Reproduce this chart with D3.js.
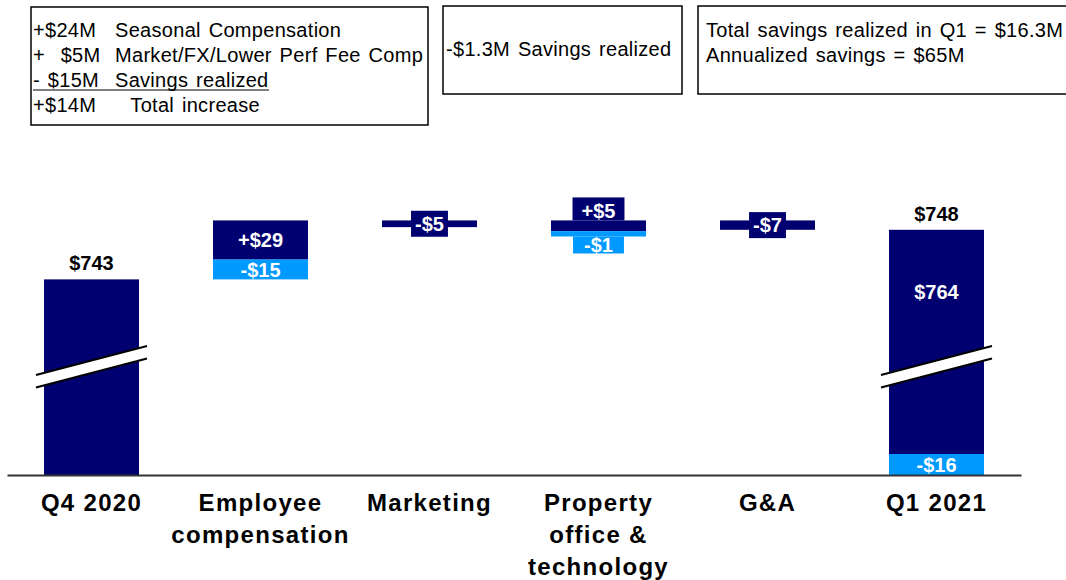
<!DOCTYPE html>
<html>
<head>
<meta charset="utf-8">
<script src="https://d3js.org/d3.v7.min.js"></script>
<style>
  body { margin: 0; background: white; }
  svg text { font-family: 'Liberation Sans', Arial, sans-serif; }
  .note { font-size: 20px; fill: #000; white-space: pre; letter-spacing: 0.3px; word-spacing: 2px; }
  .cat { font-size: 24px; font-weight: bold; letter-spacing: 1.3px; }
  .val { font-size: 20px; font-weight: bold; }
</style>
</head>
<body>
<svg id="chart" width="1066" height="580"></svg>
<script>
// categories on the x axis
const categories = ["Q4 2020", "Employee compensation", "Marketing", "Property office & technology", "G&A", "Q1 2021"];
const categoryLines = [["Q4 2020"], ["Employee", "compensation"], ["Marketing"], ["Property", "office &", "technology"], ["G&A"], ["Q1 2021"]];

// floating segments, $M as drawn on the (broken) axis
const segCategory = ["Q4 2020", "Employee compensation", "Employee compensation", "Marketing",
  "Property office & technology", "Property office & technology", "G&A", "Q1 2021", "Q1 2021"];
const segFrom  = [0,   743, 758, 787, 779, 775, 787, 16,  0];
const segTo    = [743, 758, 787, 782, 787, 779, 780, 780, 16];
const segLabel = ["", "-$15", "+$29", "-$5", "+$5", "-$1", "-$7", "$764", "-$16"];
const segType  = ["total", "saving", "increase", "increase", "increase", "saving", "increase", "total", "saving"];
const segLabelPos = ["none", "inside", "inside", "box", "above", "below", "box", "upper", "inside"];

// totals written above the end bars
const totalCategory = ["Q4 2020", "Q1 2021"];
const totalLabel = ["$743", "$748"];

// commentary boxes
const note1Amounts = ["+$24M", "+  $5M", "- $15M", "+$14M"];
const note1Items = ["Seasonal Compensation", "Market/FX/Lower Perf Fee Comp", "Savings realized", "  Total increase"];
const note2 = ["-$1.3M Savings realized"];
const note3 = ["Total savings realized in Q1 = $16.3M", "Annualized savings = $65M"];

const DARK = "#000070", LIGHT = "#0099ff";
const breakValue = 525;

const svg = d3.select("#chart");

const x = d3.scaleBand().domain(categories).range([7, 1021]).paddingInner(0.438).paddingOuter(0.219);
// broken axis: small bottom piece on the same scale as the top, middle squeezed
const y = d3.scaleLinear().domain([0, 16, 700, 800]).range([475, 454, 337, 203]);

const color = t => t == "saving" ? LIGHT : DARK;

// bars
svg.append("g").selectAll("rect")
  .data(segFrom.map((f, i) => ({cat: segCategory[i], lo: Math.min(f, segTo[i]), hi: Math.max(f, segTo[i]), type: segType[i]})))
  .join("rect")
  .attr("x", d => x(d.cat))
  .attr("width", x.bandwidth())
  .attr("y", d => y(d.hi))
  .attr("height", d => y(d.lo) - y(d.hi))
  .attr("fill", d => color(d.type));

// axis break marks on the total bars
const yb = y(breakValue);
totalCategory.forEach(c => {
  const x0 = x(c) - 8, x1 = x(c) + x.bandwidth() + 8;
  const rise = 14.5, top = yb - 6.5, bot = yb + 6;
  svg.append("polygon")
    .attr("points", [[x0, top + rise], [x1, top - rise], [x1, bot - rise], [x0, bot + rise]].join(" "))
    .attr("fill", "white");
  [top, bot].forEach(yy => {
    svg.append("line")
      .attr("x1", x0).attr("y1", yy + rise)
      .attr("x2", x1).attr("y2", yy - rise)
      .attr("stroke", "black").attr("stroke-width", 2);
  });
});

// labels on the bars
segLabel.forEach((lab, i) => {
  if (segLabelPos[i] == "none") return;
  const cx = x(segCategory[i]) + x.bandwidth() / 2;
  const hi = y(Math.max(segFrom[i], segTo[i])), lo = y(Math.min(segFrom[i], segTo[i]));
  const pos = segLabelPos[i];
  const g = svg.append("g");
  const t = g.append("text").attr("class", "val").attr("fill", "white")
    .attr("text-anchor", "middle").attr("x", cx).text(lab);
  const w = t.node().getComputedTextLength();
  if (pos == "inside") {
    t.attr("y", (hi + lo) / 2).attr("dy", "0.36em");
  } else if (pos == "upper") {
    t.attr("y", (hi + yb - 14) / 2).attr("dy", "0.36em");
  } else if (pos == "box") {
    g.insert("rect", "text").attr("x", cx - w / 2 - 4).attr("width", w + 8)
      .attr("y", (hi + lo) / 2 - 13).attr("height", 26).attr("fill", color(segType[i]));
    t.attr("y", (hi + lo) / 2).attr("dy", "0.36em");
  } else if (pos == "above") {
    g.insert("rect", "text").attr("x", cx - w / 2 - 9).attr("width", w + 18)
      .attr("y", hi - 23).attr("height", 23).attr("fill", color(segType[i]));
    t.attr("y", hi - 10).attr("dy", "0.36em");
  } else if (pos == "below") {
    g.insert("rect", "text").attr("x", cx - w / 2 - 11).attr("width", w + 22)
      .attr("y", lo).attr("height", 17).attr("fill", color(segType[i]));
    t.attr("y", lo + 8).attr("dy", "0.36em");
  }
});

// totals above end bars
totalCategory.forEach((c, i) => {
  const top = d3.max(segTo.filter((v, j) => segCategory[j] == c));
  svg.append("text").attr("class", "val").attr("text-anchor", "middle")
    .attr("x", x(c) + x.bandwidth() / 2).attr("y", y(top) - 9).text(totalLabel[i]);
});

// x axis
const axis = svg.append("g").attr("transform", "translate(0,475)")
  .call(d3.axisBottom(x).tickSize(0).tickSizeOuter(0));
axis.select(".domain").attr("stroke", "#333").attr("stroke-width", 2);
axis.selectAll(".tick text").remove();
axis.selectAll(".tick").append("text")
  .attr("class", "cat").attr("fill", "black").attr("text-anchor", "middle")
  .attr("y", 36)
  .selectAll("tspan")
  .data(d => categoryLines[categories.indexOf(d)])
  .join("tspan")
  .attr("x", 0).attr("dy", (d, i) => i ? 32 : 0)
  .text(d => d);

// note boxes
function box(x0, y0, w, h) {
  svg.append("rect").attr("x", x0).attr("y", y0).attr("width", w).attr("height", h)
    .attr("fill", "none").attr("stroke", "black").attr("stroke-width", 1.5);
}
box(31, 7, 397, 118);
box(443, 6, 239, 88);
box(698, 6, 380, 88);

note1Amounts.forEach((a, i) => {
  svg.append("text").attr("class", "note").attr("x", 33).attr("y", 37 + i * 25).text(a);
  svg.append("text").attr("class", "note").attr("x", 115).attr("y", 37 + i * 25).text(note1Items[i]);
});
svg.append("line").attr("x1", 33).attr("x2", 269).attr("y1", 90).attr("y2", 90)
  .attr("stroke", "black").attr("stroke-width", 1.2);

note2.forEach((t, i) => {
  svg.append("text").attr("class", "note").attr("x", 446).attr("y", 56 + i * 25).text(t);
});
note3.forEach((t, i) => {
  svg.append("text").attr("class", "note").attr("x", 706).attr("y", 37 + i * 25).text(t);
});
</script>
</body>
</html>
